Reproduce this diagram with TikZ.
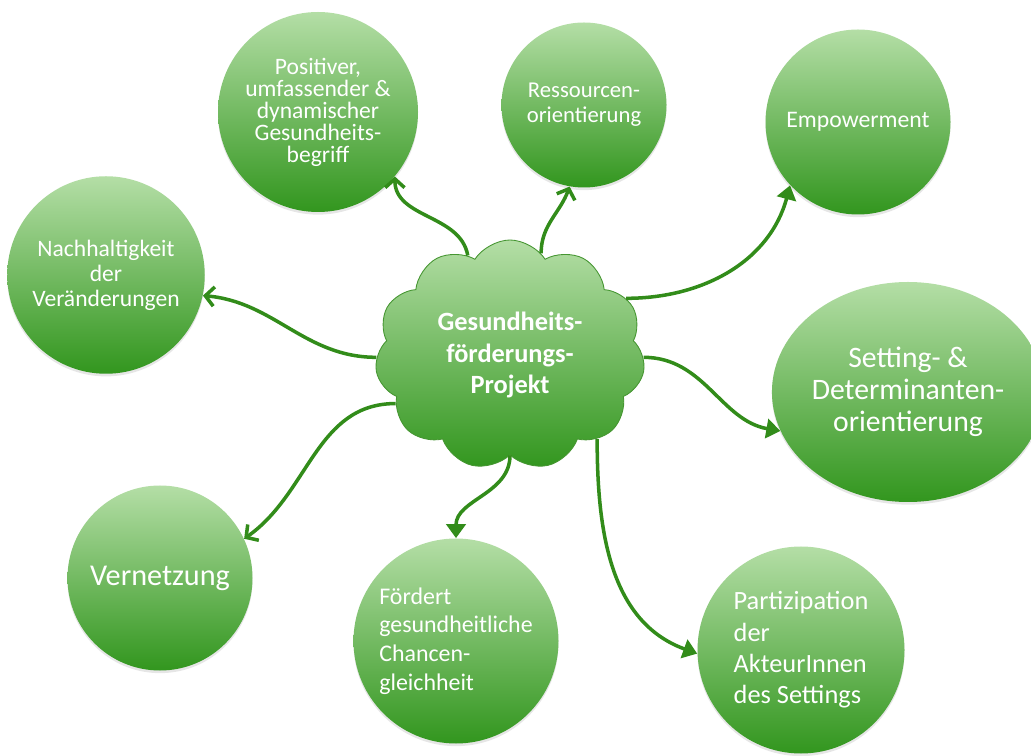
\documentclass[tikz,border=0pt]{standalone}
\usepackage{fontspec}
\setmainfont{Carlito}
\usetikzlibrary{arrows.meta,shapes.symbols,shapes.geometric,shadows}
\definecolor{bubbletop}{RGB}{180,222,166}
\definecolor{bubblebot}{RGB}{50,150,30}
\definecolor{spokegreen}{RGB}{50,140,26}
\definecolor{cloudrim}{RGB}{70,150,50}

\tikzset{
	bubble/.style={circle, top color=bubbletop, bottom color=bubblebot, text=white, align=center, inner sep=0pt,
		drop shadow={opacity=0.2, shadow xshift=0pt, shadow yshift=-1.5pt}},
	spoke/.style={draw=spokegreen, line width=2pt},
	openspoke/.style={spoke, -{Straight Barb[length=5pt,width=11pt,line width=2pt]}},
	fullspoke/.style={spoke, -{Triangle[length=8pt,width=11pt]}},
}

\begin{document}
\begin{tikzpicture}
				\useasboundingbox (0,0) rectangle (20.62,15.1);
				
				\node[cloud, cloud puffs=11, cloud puff arc=115, aspect=1.15, minimum width=5.4cm, minimum height=4.6cm, inner sep=0pt,
					top color=bubbletop, bottom color=bubblebot, draw=cloudrim, line width=0.5pt, text=white, align=center,
					font=\fontsize{15}{18}\selectfont\bfseries] (projekt) at (10.2,8.0) {Gesundheits-\\förderungs-\\Projekt};
				
				\node[bubble, minimum size=4.0cm, font=\fontsize{13.4}{12.5}\selectfont] (begriff) at (6.36,12.86) {Positiver,\\umfassender \&\\dynamischer\\Gesundheits-\\begriff};
				\node[bubble, minimum size=3.3cm, font=\fontsize{12.9}{14.3}\selectfont] (ressourcen) at (11.68,13.0) {Ressourcen-\\orientierung};
				\node[bubble, minimum size=3.7cm, font=\fontsize{13.5}{15}\selectfont] (empower) at (17.16,12.66) {Empowerment};
				\node[bubble, minimum size=3.95cm, font=\fontsize{13.4}{14.3}\selectfont] (nachhalt) at (2.12,9.6) {Nachhaltigkeit\\der\\Veränderungen};
				\node[bubble, ellipse, minimum width=5.2cm, minimum height=4.4cm, font=\fontsize{16.9}{18.2}\selectfont] (setting) at (18.16,7.26) {Setting- \&\\Determinanten-\\orientierung};
				\node[bubble, minimum size=3.7cm, font=\fontsize{17.2}{19}\selectfont] (vernetzung) at (3.2,3.54) {Vernetzung};
				\node[bubble, minimum size=4.1cm, align=left, font=\fontsize{13.6}{16.4}\selectfont] (chancen) at (9.12,2.28) {Fördert\\gesundheitliche\\Chancen-\\gleichheit};
				\node[bubble, minimum size=4.14cm, align=left, font=\fontsize{15}{17.8}\selectfont] (partizip) at (16.02,2.1) {Partizipation\\der\\AkteurInnen\\des Settings};
				
				\draw[openspoke] (projekt.113) to[out=100, in=-90] (begriff.-40);
				\draw[openspoke] (projekt.73) to[out=90, in=-110] (ressourcen.-100);
				\draw[fullspoke] (projekt.26) to[out=0, in=-105] (empower.-137);
				\draw[openspoke] (projekt.181) to[out=180, in=-5] (nachhalt.-12);
				\draw[fullspoke] (projekt.-1) to[out=0, in=170] (setting.-163);
				\draw[openspoke] (projekt.203) to[out=180, in=35] (vernetzung.25);
				\draw[fullspoke] (projekt.-90) to[out=-90, in=90] (chancen.90);
				\draw[fullspoke] (projekt.-44) to[out=-90, in=160] (partizip.-178);
			\end{tikzpicture}
\end{document}
